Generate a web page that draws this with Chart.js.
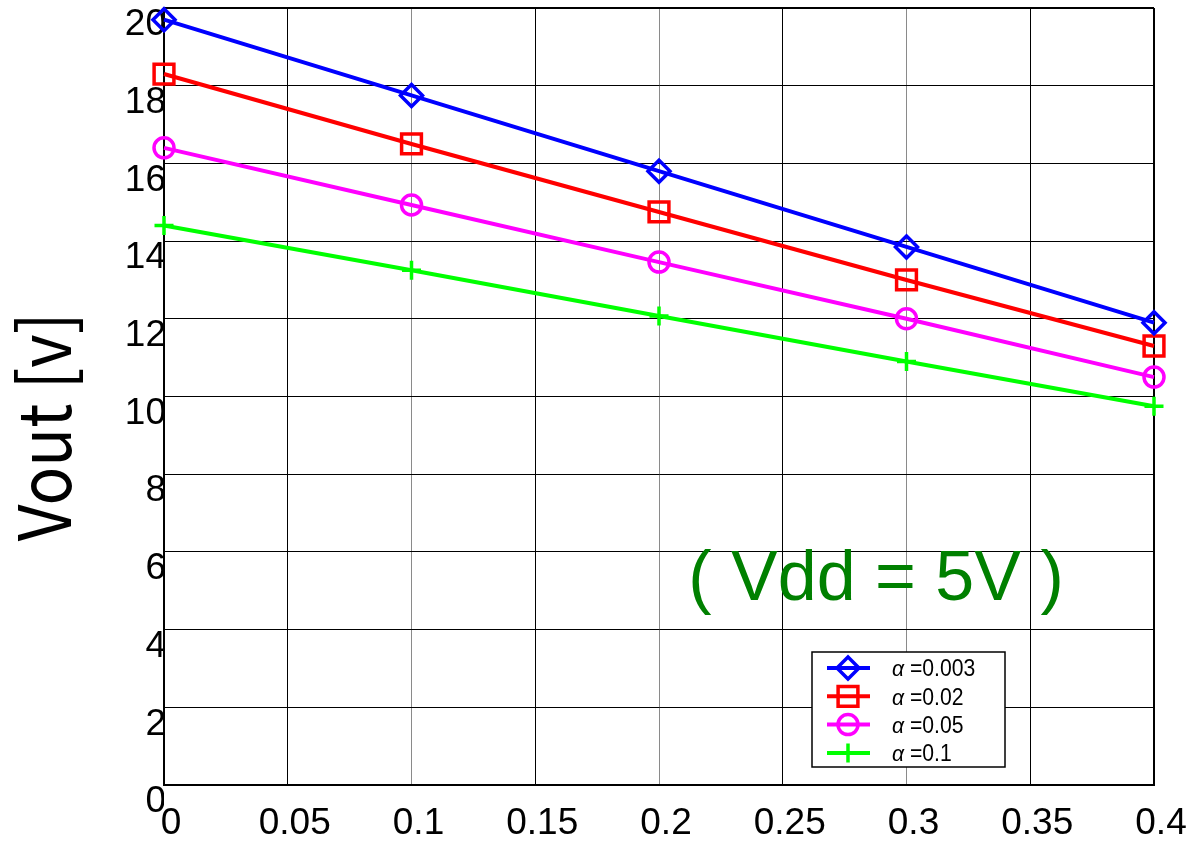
<!DOCTYPE html>
<html>
<head>
<meta charset="utf-8">
<script src="https://cdn.jsdelivr.net/npm/chart.js@4/dist/chart.umd.min.js"></script>
<style>
  html, body { margin: 0; padding: 0; background: #fff; }
  #wrap { position: relative; width: 1193px; height: 842px; }
</style>
</head>
<body>
<div id="wrap"><canvas id="c" width="1193" height="842"></canvas></div>
<script>
// Output voltage vs. x for four values of alpha
const xValues = [0, 0.1, 0.2, 0.3, 0.4];
const seriesLabels = ['α =0.003', 'α =0.02', 'α =0.05', 'α =0.1'];
const voutAlpha0003 = [19.7, 17.75, 15.8, 13.85, 11.9];
const voutAlpha002 = [18.3, 16.5, 14.75, 13.0, 11.3];
const voutAlpha005 = [16.4, 14.93, 13.46, 12.0, 10.5];
const voutAlpha01 = [14.4, 13.25, 12.07, 10.9, 9.75];

const xTickValues = [0, 0.05, 0.1, 0.15, 0.2, 0.25, 0.3, 0.35, 0.4];
const xTickLabels = ['0', '0.05', '0.1', '0.15', '0.2', '0.25', '0.3', '0.35', '0.4'];
const yTickValues = [0, 2, 4, 6, 8, 10, 12, 14, 16, 18, 20];
const yTickLabels = ['0', '2', '4', '6', '8', '10', '12', '14', '16', '18', '20'];

const yTitle = 'Vout [v]';
const noteText = '( Vdd = 5V )';

const FONT = '"Liberation Sans", Arial, sans-serif';

const seriesStyles = [
  { color: '#0000ff', pointStyle: 'rectRot', radius: 11 },
  { color: '#ff0000', pointStyle: 'rect', radius: 14 },
  { color: '#ff00ff', pointStyle: 'circle', radius: 10 },
  { color: '#00ff00', pointStyle: 'cross', radius: 9.5 }
];
const seriesValues = [voutAlpha0003, voutAlpha002, voutAlpha005, voutAlpha01];

const datasets = seriesValues.map((vals, i) => ({
  label: seriesLabels[i],
  data: xValues.map((x, j) => ({ x: x, y: vals[j] })),
  borderColor: seriesStyles[i].color,
  backgroundColor: seriesStyles[i].color,
  borderWidth: 4,
  pointStyle: seriesStyles[i].pointStyle,
  pointRadius: seriesStyles[i].radius,
  pointBorderWidth: 3.5,
  pointBackgroundColor: 'rgba(0,0,0,0)',
  pointBorderColor: seriesStyles[i].color,
  tension: 0,
  clip: false
}));

// Axis title, annotation and boxed legend drawn on top of the chart
const overlay = {
  id: 'overlay',
  afterDraw(chart) {
    const ctx = chart.ctx;
    // y-axis title (slightly condensed)
    ctx.save();
    ctx.translate(44, 427);
    ctx.rotate(-Math.PI / 2);
    ctx.scale(0.89, 1);
    ctx.fillStyle = '#000';
    ctx.textAlign = 'center';
    ctx.textBaseline = 'middle';
    ctx.font = '72px "Noto Sans CJK JP", ' + FONT;
    ctx.fillText(yTitle, 0, 0);
    ctx.restore();

    // supply voltage note
    ctx.save();
    ctx.fillStyle = '#008000';
    ctx.textAlign = 'center';
    ctx.textBaseline = 'alphabetic';
    ctx.font = '70px ' + FONT;
    ctx.fillText(noteText, 876, 600);
    ctx.restore();

    // legend box
    const bx = 812, by = 652, bw = 193, bh = 115;
    ctx.save();
    ctx.fillStyle = '#fff';
    ctx.fillRect(bx, by, bw, bh);
    ctx.strokeStyle = '#000';
    ctx.lineWidth = 1.5;
    ctx.strokeRect(bx, by, bw, bh);
    chart.data.datasets.forEach((ds, i) => {
      const y = 668 + i * 28.3;
      ctx.strokeStyle = ds.borderColor;
      ctx.lineWidth = 4;
      ctx.beginPath();
      ctx.moveTo(827, y);
      ctx.lineTo(870, y);
      ctx.stroke();
      ctx.lineWidth = 3.5;
      ctx.strokeStyle = ds.borderColor;
      ctx.fillStyle = 'rgba(0,0,0,0)';
      Chart.helpers.drawPoint(ctx, {
        pointStyle: ds.pointStyle,
        radius: ds.pointRadius,
        borderWidth: 3.5,
        rotation: 0
      }, 848, y);
      ctx.fillStyle = '#000';
      ctx.textAlign = 'left';
      ctx.textBaseline = 'middle';
      const label = ds.label;
      ctx.save();
      ctx.translate(892, y + 2);
      ctx.scale(0.92, 1);
      ctx.font = 'italic 23px ' + FONT;
      ctx.fillText(label.charAt(0), 0, 0);
      const w = ctx.measureText(label.charAt(0)).width;
      ctx.font = '23px ' + FONT;
      ctx.fillText(label.slice(1), w, 0);
      ctx.restore();
    });
    ctx.restore();
  }
};

new Chart(document.getElementById('c'), {
  type: 'line',
  data: { datasets: datasets },
  options: {
    responsive: false,
    devicePixelRatio: 1,
    animation: false,
    layout: { autoPadding: false, padding: { left: 0, top: 8, right: 39, bottom: 0 } },
    plugins: { legend: { display: false }, tooltip: { enabled: false } },
    scales: {
      x: {
        type: 'linear',
        min: 0,
        max: 0.4,
        afterBuildTicks: s => { s.ticks = xTickValues.map(v => ({ value: v })); },
        afterFit: s => { s.height = 57; s.paddingLeft = 0; s.paddingRight = 0; },
        ticks: {
          autoSkip: false,
          maxRotation: 0,
          padding: 17,
          labelOffset: 7,
          color: '#000',
          font: { family: FONT, size: 37 },
          callback: (v, i) => xTickLabels[i]
        },
        grid: {
          drawTicks: false,
          color: c => (c.index % 2 === 0 && c.index !== 8) ? '#8a8a8a' : '#000',
          lineWidth: c => c.index === 8 ? 2 : 1
        },
        border: { color: '#000', width: 2 }
      },
      y: {
        type: 'linear',
        min: 0,
        max: 20,
        afterBuildTicks: s => { s.ticks = yTickValues.map(v => ({ value: v })); },
        afterFit: s => { s.width = 164; s.paddingTop = 0; s.paddingBottom = 0; },
        ticks: {
          autoSkip: false,
          padding: -2,
          labelOffset: 17,
          color: '#000',
          font: { family: FONT, size: 37 },
          callback: (v, i) => yTickLabels[i]
        },
        grid: {
          drawTicks: false,
          color: '#000',
          lineWidth: c => c.index === 10 ? 2 : 1
        },
        border: { color: '#000', width: 2 }
      }
    }
  },
  plugins: [overlay]
});
</script>
</body>
</html>
